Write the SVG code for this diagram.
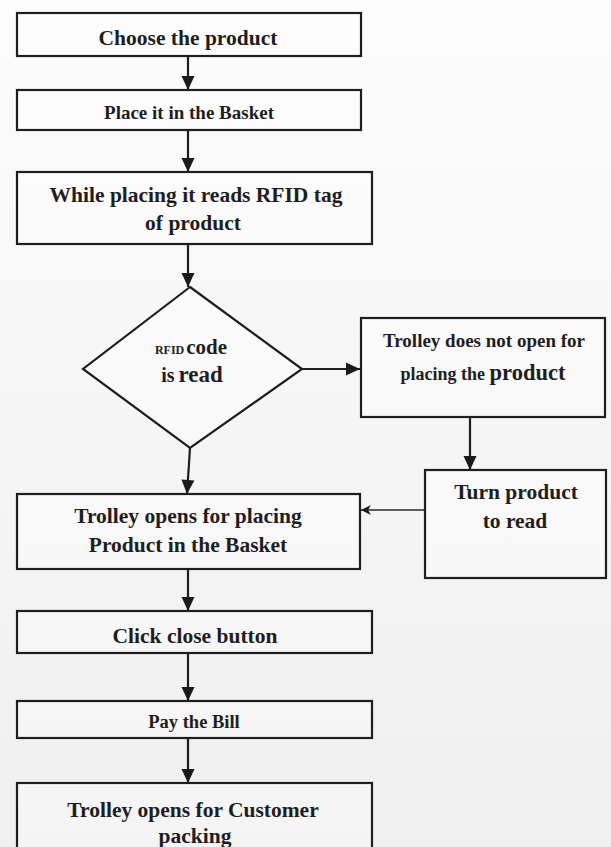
<svg xmlns="http://www.w3.org/2000/svg" width="611" height="847" viewBox="0 0 611 847">
<defs>
<linearGradient id="bg" x1="0" y1="0" x2="0" y2="1">
<stop offset="0" stop-color="#fcfcfc"/>
<stop offset="1" stop-color="#efefef"/>
</linearGradient>
<marker id="ah" markerUnits="userSpaceOnUse" markerWidth="16" markerHeight="16" viewBox="0 0 16 16" refX="15" refY="8" orient="auto">
<path d="M1,1.5 L15,8 L1,14.5 z" fill="#1a1a1a"/>
</marker>
<marker id="ah2" markerUnits="userSpaceOnUse" markerWidth="12" markerHeight="12" viewBox="0 0 12 12" refX="11" refY="6" orient="auto">
<path d="M1,1 L11,6 L1,11 L4,6 z" fill="#1a1a1a"/>
</marker>
</defs>
<style>
.box{fill:#ffffff;fill-opacity:0.35;stroke:#1e1e1e;stroke-width:2.2}
.t{font-family:"Liberation Serif","Times New Roman",serif;font-weight:bold;fill:#1e1e1e;text-anchor:middle}
.c{stroke:#1e1e1e;stroke-width:2.2;fill:none;marker-end:url(#ah)}
.thin{stroke:#2a2a2a;stroke-width:1.4;fill:none;marker-end:url(#ah2)}
</style>
<rect x="0" y="0" width="611" height="847" fill="url(#bg)"/>

<g id="connectors">
<line class="c" x1="188" y1="56" x2="188" y2="90"/>
<line class="c" x1="188" y1="130" x2="188" y2="172"/>
<line class="c" x1="188" y1="244" x2="188" y2="287"/>
<line class="c" x1="302" y1="369" x2="360" y2="369"/>
<line class="c" x1="470" y1="417" x2="470" y2="470"/>
<line class="c" x1="190" y1="448" x2="187" y2="494"/>
<line class="thin" x1="425" y1="510" x2="361" y2="510"/>
<line class="c" x1="188" y1="569" x2="188" y2="611"/>
<line class="c" x1="188" y1="653" x2="188" y2="701"/>
<line class="c" x1="188" y1="738" x2="188" y2="783"/>
</g>

<g id="choose">
<rect class="box" x="17" y="13" width="344" height="43"/>
<text class="t" x="188" y="45" font-size="21.5">Choose the product</text>
</g>
<g id="place">
<rect class="box" x="17" y="90" width="344" height="40"/>
<text class="t" x="189" y="119" font-size="19">Place it in the Basket</text>
</g>
<g id="reads">
<rect class="box" x="17" y="172" width="355" height="72"/>
<text class="t" x="196" y="202" font-size="21.5">While placing it reads RFID tag</text>
<text class="t" x="193" y="230" font-size="21.5">of product</text>
</g>
<g id="decision">
<polygon class="box" points="190,287 302,369 190,448 83,369"/>
<text class="t" x="191" y="354"><tspan font-size="12">RFID</tspan><tspan font-size="21" dx="2">code</tspan></text>
<text class="t" x="192" y="382"><tspan font-size="20">is</tspan><tspan font-size="23" dx="4">read</tspan></text>
</g>
<g id="notopen">
<rect class="box" x="361" y="318" width="244" height="99"/>
<text class="t" x="484" y="347" font-size="19">Trolley does not open for</text>
<text class="t" x="483" y="380"><tspan font-size="18">placing the </tspan><tspan font-size="22.5">product</tspan></text>
</g>
<g id="turn">
<rect class="box" x="425" y="470" width="181" height="108"/>
<text class="t" x="516" y="499" font-size="21.5">Turn product</text>
<text class="t" x="515" y="528" font-size="21.5">to read</text>
</g>
<g id="opens">
<rect class="box" x="17" y="494" width="343" height="75"/>
<text class="t" x="188" y="523" font-size="21.5">Trolley opens for placing</text>
<text class="t" x="188" y="552" font-size="21.5">Product in the Basket</text>
</g>
<g id="close">
<rect class="box" x="17" y="611" width="355" height="42"/>
<text class="t" x="195" y="643" font-size="21.5">Click close button</text>
</g>
<g id="pay">
<rect class="box" x="17" y="701" width="355" height="37"/>
<text class="t" x="194" y="728" font-size="18.5">Pay the Bill</text>
</g>
<g id="packing">
<rect class="box" x="17" y="783" width="355" height="80"/>
<text class="t" x="193" y="817" font-size="21.5">Trolley opens for Customer</text>
<text class="t" x="195" y="843" font-size="21.5">packing</text>
</g>
</svg>
